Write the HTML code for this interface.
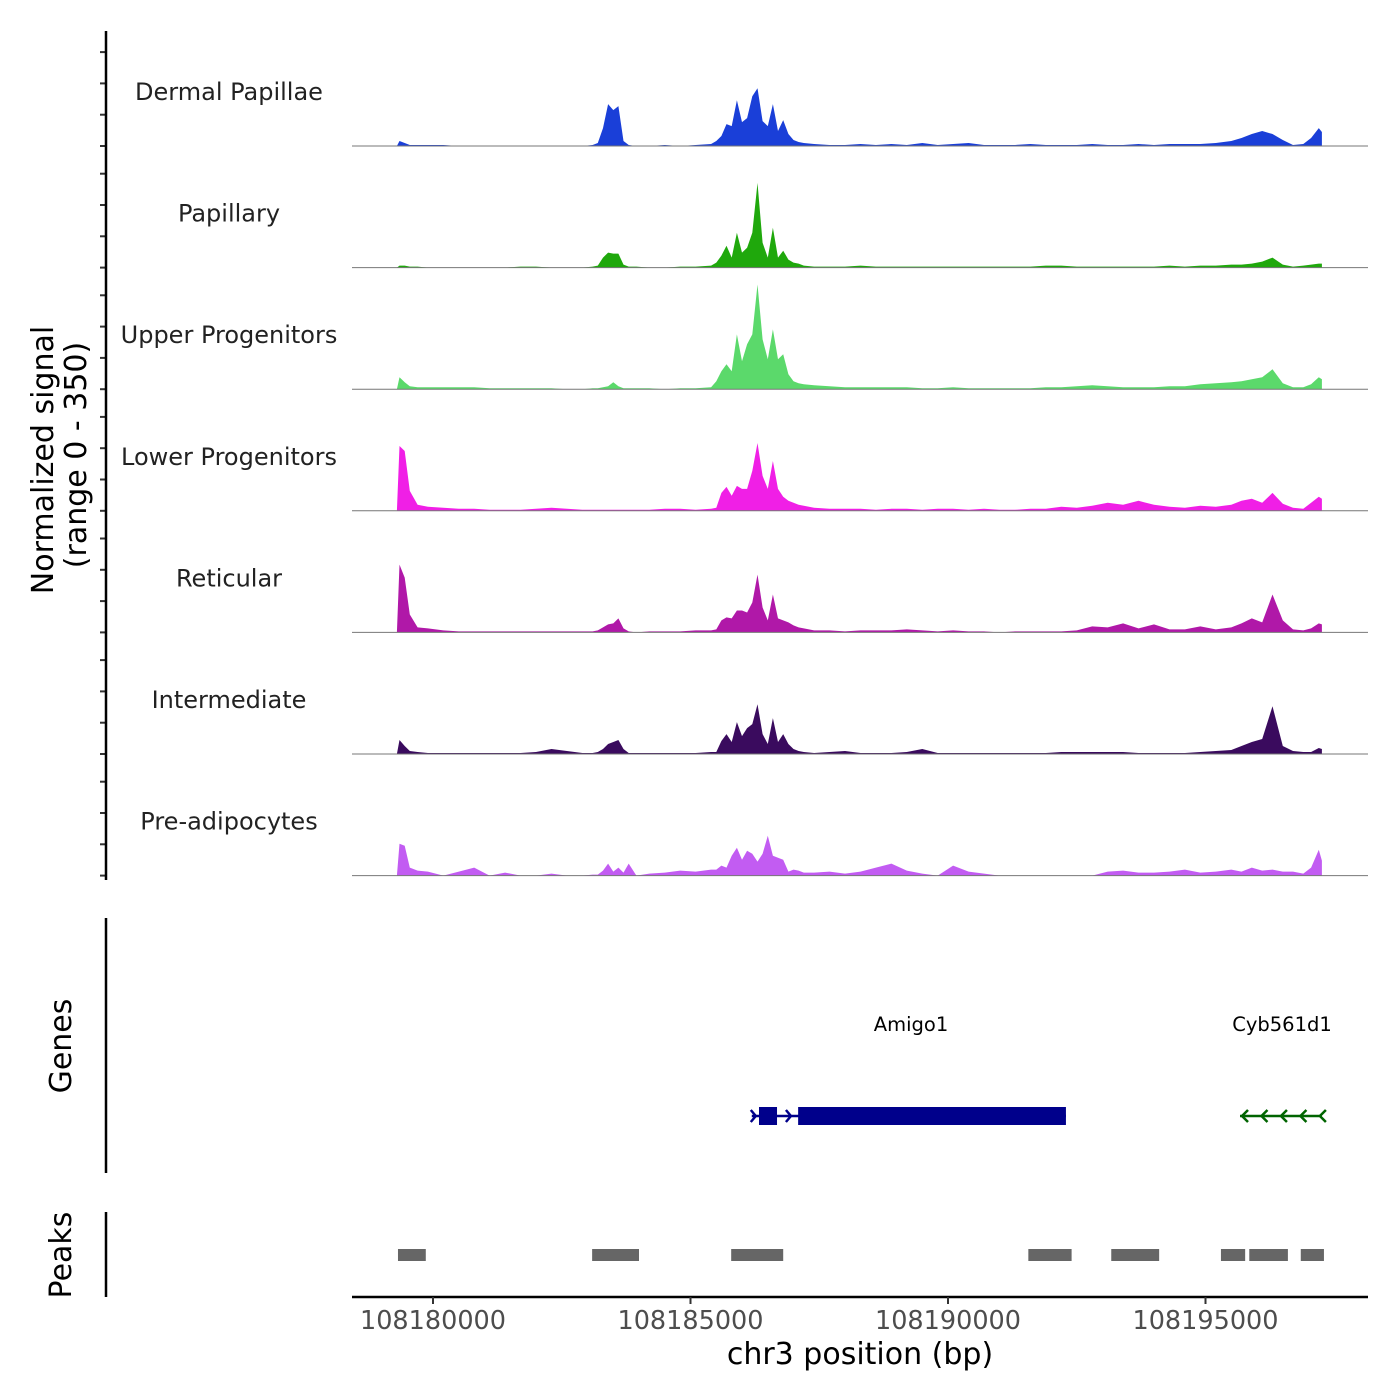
<!DOCTYPE html>
<html><head><meta charset="utf-8"><style>
html,body{margin:0;padding:0;background:#fff;}
svg{display:block;font-family:"DejaVu Sans","Liberation Sans",sans-serif;}
</style></head><body>
<svg id="chart" width="1400" height="1400" viewBox="0 0 1400 1400" xmlns="http://www.w3.org/2000/svg">
<rect width="1400" height="1400" fill="#fff"/>
<g id="tracks"></g>
<g id="axes"></g>
<text transform="translate(53,460) rotate(-90)" text-anchor="middle" font-size="30" fill="#000">Normalized signal</text>
<text transform="translate(86,455) rotate(-90)" text-anchor="middle" font-size="30" fill="#000">(range 0 - 350)</text>
<text transform="translate(71,1046) rotate(-90)" text-anchor="middle" font-size="30" fill="#000">Genes</text>
<text transform="translate(71,1255) rotate(-90)" text-anchor="middle" font-size="30" fill="#000">Peaks</text>
<text x="860" y="1364" text-anchor="middle" font-size="30" fill="#000">chr3 position (bp)</text>
</svg>
<script>
// positions in kb offset from 108180000
const positionsKb = [-0.7,-0.65,-0.55,-0.45,-0.3,-0.1,0.2,0.5,0.8,1.1,1.4,1.7,2.0,2.3,2.6,2.9,
3.1,3.2,3.3,3.4,3.5,3.6,3.7,3.8,3.95,
4.2,4.5,4.8,5.1,5.4,
5.5,5.6,5.7,5.8,5.9,6.0,6.1,6.2,6.3,6.4,6.5,6.6,6.7,6.8,6.9,7.0,7.1,7.2,
7.4,7.7,8.0,8.3,8.6,8.9,9.2,9.5,9.8,10.1,10.4,10.7,11.0,11.3,11.6,11.9,12.2,12.5,12.8,13.1,13.4,13.7,14.0,14.3,
14.6,14.9,15.2,15.5,15.7,15.9,16.1,16.3,16.5,16.7,16.9,17.05,17.2,17.26];
const trackNames = ["Dermal Papillae","Papillary","Upper Progenitors","Lower Progenitors","Reticular","Intermediate","Pre-adipocytes"];
const trackColors = ["#1a3fd8","#1fa80c","#5bd96b","#f01fe6","#b018a8","#3a0b5e","#c25cf2"];
const dermalPapillae = [0,5,3,1,1,1,1,0,0,0,0,0,0,0,0,0, 1,3,18,42,36,40,5,1,0, 0,1,0,1,2, 5,10,22,20,46,24,28,50,58,25,20,42,15,26,12,6,4,3, 2,1,1,2,1,2,1,3,1,2,3,1,1,1,2,1,1,1,2,1,1,2,1,2, 2,2,3,5,8,12,15,12,6,1,2,8,18,14];
const papillary = [0,2,2,1,1,0,0,0,0,0,0,1,1,0,0,0, 1,2,10,15,14,14,3,1,1, 0,0,1,1,2, 5,12,22,10,35,15,20,35,85,25,10,40,10,17,8,5,4,2, 1,1,1,2,1,1,1,1,1,1,1,1,1,1,1,2,2,1,1,1,1,1,1,2, 1,2,2,3,3,4,6,10,3,1,2,3,4,4];
const upperProgenitors = [0,12,7,3,2,2,2,2,2,1,1,1,1,1,0,0, 1,1,2,3,7,3,1,1,1, 1,0,1,1,2, 8,18,25,18,55,28,45,55,105,50,30,60,30,35,15,8,6,5, 4,3,2,2,2,2,2,1,1,2,1,1,1,1,1,2,2,3,4,3,2,2,2,3, 3,5,6,7,8,10,12,20,6,2,2,5,12,10];
const lowerProgenitors = [0,65,60,20,6,4,3,2,2,1,1,1,2,3,2,1, 1,1,1,1,1,1,1,1,1, 1,2,2,1,2, 3,18,24,15,25,22,22,40,68,35,22,50,22,14,10,8,6,5, 3,2,2,2,1,2,2,1,2,2,1,2,1,1,2,2,4,3,5,8,6,10,6,4, 3,5,4,6,10,12,8,18,7,3,2,8,14,12];
const reticular = [0,68,55,18,5,4,2,1,1,1,1,1,1,1,1,1, 1,2,5,8,9,14,4,1,0, 1,1,1,2,2, 3,12,15,14,22,22,20,30,58,25,12,38,14,12,10,7,5,4, 2,2,1,2,2,2,3,2,1,2,1,1,0,1,1,1,1,2,6,5,9,4,8,3, 3,6,3,5,9,14,10,38,12,3,2,4,9,8];
const intermediate = [0,14,8,3,2,1,1,1,1,1,1,1,2,5,3,1, 1,2,5,10,12,14,5,1,1, 1,1,1,1,2, 2,13,20,12,32,18,26,30,50,20,10,36,12,20,10,5,3,2, 1,2,3,1,1,1,2,5,1,1,1,1,1,1,1,1,2,2,2,2,2,1,1,1, 1,2,3,4,8,12,15,48,8,3,2,2,6,5];
const preAdipocytes = [0,32,30,8,5,4,0,4,8,0,3,0,0,2,0,0, 1,1,5,12,4,8,3,12,0, 2,3,5,4,6, 6,10,8,20,28,16,25,22,14,22,40,20,18,16,4,6,5,3, 3,4,2,4,8,12,5,2,0,10,4,2,0,0,0,0,0,0,0,4,5,3,3,4, 6,3,4,6,4,8,5,6,4,4,2,8,26,15];
const trackValues = [dermalPapillae,papillary,upperProgenitors,lowerProgenitors,reticular,intermediate,preAdipocytes];
const xTickValues = [108180000,108185000,108190000,108195000];
const xTickLabels = ["108180000","108185000","108190000","108195000"];
const peakStartsKb = [-0.68,3.09,5.79,11.56,13.17,15.3,15.85,16.85];
const peakEndsKb = [-0.14,4.0,6.8,12.4,14.1,15.77,16.6,17.3];
const geneNames = ["Amigo1","Cyb561d1"];
const geneStartsKb = [6.19,15.67];
const geneEndsKb = [12.29,17.26];
const amigoExonsStartKb = [6.33,7.09];
const amigoExonsEndKb = [6.68,12.29];

const NS="http://www.w3.org/2000/svg";
const svg=document.getElementById('chart');
const tracksG=document.getElementById('tracks');
const axesG=document.getElementById('axes');
const signalMax=122;
const X0=433, PXPERKB=51.5;
function xs(kb){return X0+kb*PXPERKB;}
function xbp(bp){return xs((bp-108180000)/1000);}
const firstBase=146, panelH=121.6;
function mk(tag,attrs,parent){const e=document.createElementNS(NS,tag);for(const k in attrs)e.setAttribute(k,attrs[k]);(parent||svg).appendChild(e);return e;}

trackValues.forEach((vals,i)=>{
  const base=firstBase+i*panelH;
  const ys=v=>base-v/signalMax*panelH;
  let d='M'+xs(positionsKb[0]).toFixed(1)+' '+base;
  vals.forEach((v,j)=>{d+=' L'+xs(positionsKb[j]).toFixed(1)+' '+ys(v).toFixed(1);});
  d+=' L'+xs(positionsKb[positionsKb.length-1]).toFixed(1)+' '+base+' Z';
  const p=mk('path',{d:d,fill:trackColors[i]},tracksG);
  
  
  const bl=mk('line',{x1:352,x2:1368,y1:base,y2:base,stroke:'#777','stroke-width':1},tracksG);
  
  
  const t=mk('text',{x:229,y:base-46,'text-anchor':'middle','font-size':24,fill:'#222'},tracksG);
  t.textContent=trackNames[i];
  
  
  for(let k=0;k<4;k++){
    const yy=base-k*31.3;
    const tk=mk('line',{x1:100,x2:106,y1:yy,y2:yy,stroke:'#333','stroke-width':2},axesG);
    
    
  }
});
[[31,880],[918,1173],[1212,1297]].forEach(r=>{
  const l=mk('line',{x1:106,x2:106,y1:r[0],y2:r[1],stroke:'#000','stroke-width':2.5},axesG);
  
  
});
const xl=mk('line',{x1:352,x2:1368,y1:1297,y2:1297,stroke:'#000','stroke-width':2.5},axesG);


xTickValues.forEach((v,i)=>{
  const x=xbp(v);
  const tk=mk('line',{x1:x,x2:x,y1:1297,y2:1304,stroke:'#333','stroke-width':2},axesG);
  
  
  const t=mk('text',{x:x,y:1329,'text-anchor':'middle','font-size':25.5,fill:'#4d4d4d'},axesG);
  t.textContent=xTickLabels[i];
  
  
});
peakStartsKb.forEach((s,i)=>{
  const r=mk('rect',{x:xs(s),y:1249,width:xs(peakEndsKb[i])-xs(s),height:12,fill:'#666'});
  
  
});
const gy=1116;
const g1=mk('line',{x1:xs(geneStartsKb[0]),x2:xs(geneEndsKb[0]),y1:gy,y2:gy,stroke:'#00008b','stroke-width':2.5});


amigoExonsStartKb.forEach((s,i)=>{
  const r=mk('rect',{x:xs(s),y:gy-9,width:xs(amigoExonsEndKb[i])-xs(s),height:18,fill:'#00008b'});
  
  
});
[xs(geneStartsKb[0])+4, xs(6.95)].forEach(x=>{
  const c=mk('path',{d:`M${x-5} ${gy-6} L${x} ${gy} L${x-5} ${gy+6}`,fill:'none',stroke:'#00008b','stroke-width':2.5});
  
  
});
const g2=mk('line',{x1:xs(geneStartsKb[1]),x2:xs(geneEndsKb[1]),y1:gy,y2:gy,stroke:'#006400','stroke-width':2.5});


for(let k=0;k<5;k++){
  const x=xs(geneStartsKb[1])+2+k*(xs(geneEndsKb[1])-xs(geneStartsKb[1])-4)/4;
  const c=mk('path',{d:`M${x+6} ${gy-6} L${x} ${gy} L${x+6} ${gy+6}`,fill:'none',stroke:'#006400','stroke-width':2.5});
  
  
}
[911,1282].forEach((x,i)=>{
  const t=mk('text',{x:x,y:1031,'text-anchor':'middle','font-size':19.5,fill:'#000'});
  t.textContent=geneNames[i];
  
  
});
</script>
</body></html>
